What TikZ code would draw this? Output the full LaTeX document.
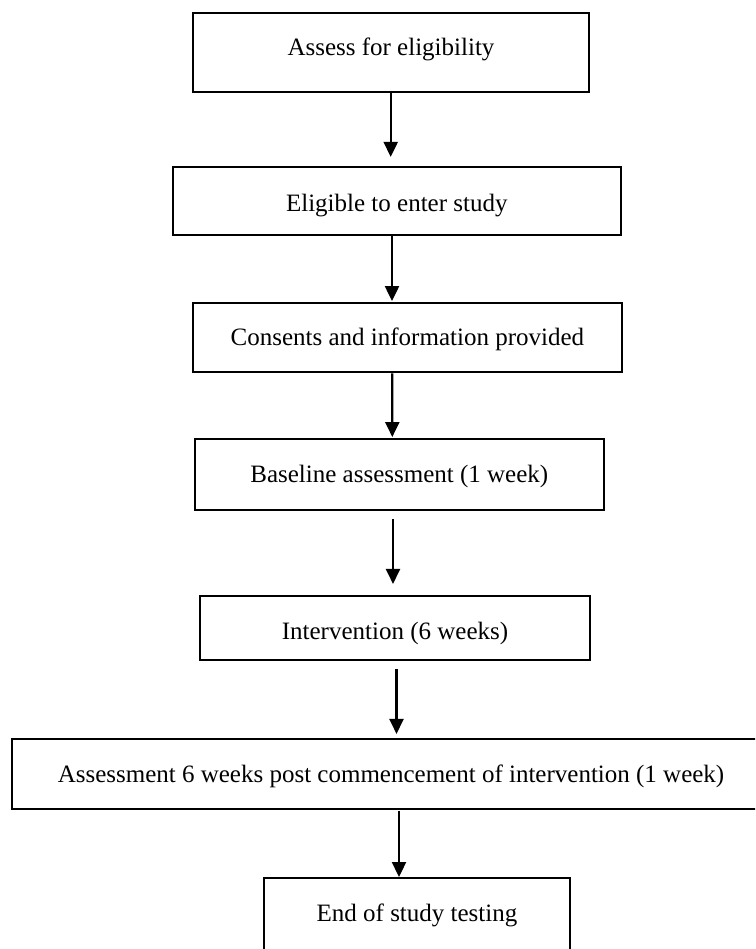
\documentclass[tikz,border=0pt]{standalone}
\usepackage{fontspec}
\setmainfont{Liberation Serif}
\usetikzlibrary{arrows.meta,calc}
\tikzset{
  stagebox/.style={draw, line width=2pt, rectangle, inner sep=0pt,
    font=\fontsize{25}{30}\selectfont, text height=16.5pt, text depth=0pt},
  arr/.style={line width=2.3pt, -{Triangle[length=15pt,width=14pt]}}
}
\begin{document}
\begin{tikzpicture}[x=1pt,y=-1pt]
\useasboundingbox (0,0) rectangle (755,949);
\clip (0,0) rectangle (755,949);
\fill[white] (0,0) rectangle (755,949);
\node[stagebox, minimum width=396pt, minimum height=79pt, text depth=10pt] (b1) at (391,52.6) {Assess for eligibility};
\node[stagebox, minimum width=448.5pt, minimum height=68pt, text height=19.7pt] (b2) at (396.8,201.2) {Eligible to enter study};
\node[stagebox, minimum width=428.5pt, minimum height=69.5pt] (b3) at (407.4,337.5) {Consents and information provided};
\node[stagebox, minimum width=409.5pt, minimum height=70.7pt] (b4) at (399.3,474.7) {Baseline assessment (1 week)};
\node[stagebox, minimum width=390pt, minimum height=64.3pt, text height=22.9pt] (b5) at (395,627.8) {Intervention (6 weeks)};
\node[stagebox, minimum width=757.4pt, minimum height=70.5pt] (b6) at (391,774.2) {Assessment 6 weeks post commencement of intervention (1 week)};
\node[stagebox, minimum width=306pt, minimum height=72pt, text depth=2.4pt] (b7) at (417,914) {End of study testing};
\draw[arr] ($(b1.south)+(-0.3,0)$) -- ($(b2.north)+(-6.1,-9.3)$);
\draw[arr] ($(b2.south)+(-4.8,0)$) -- ($(b3.north)+(-15.4,-0.7)$);
\draw[arr] ($(b3.south)+(-15.1,0)$) -- ($(b4.north)+(-7.0,-1.3)$);
\draw[arr] ($(b4.south)+(-6.3,8)$) -- ($(b5.north)+(-2,-10.7)$);
\draw[arr] ($(b5.south)+(1.5,8)$) -- ($(b6.north)+(5.5,-4)$);
\draw[arr] ($(b6.south)+(8,0.5)$) -- ($(b7.north)+(-18,0)$);
\end{tikzpicture}
\end{document}
